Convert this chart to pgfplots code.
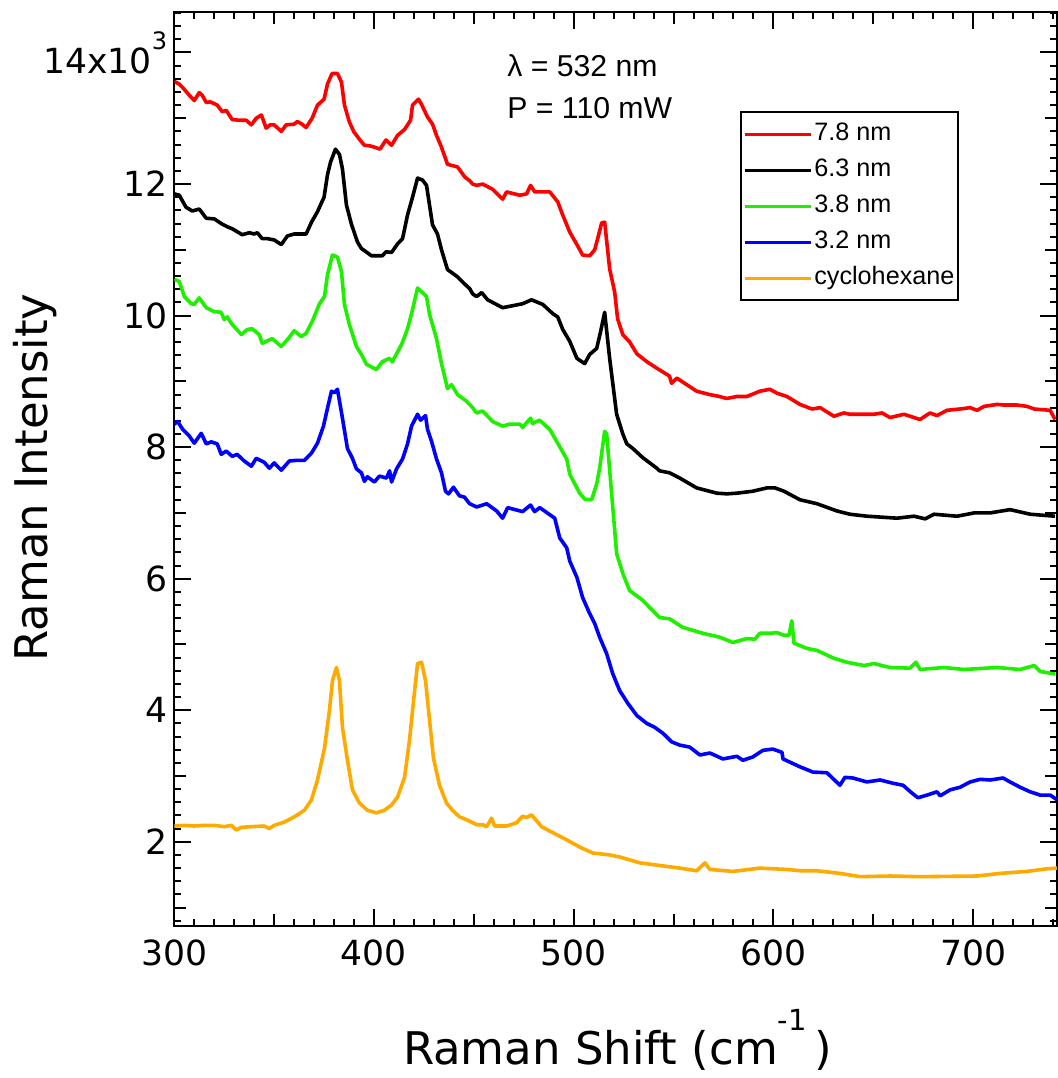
\documentclass[border=0pt]{standalone}
\usepackage{fontspec}
\setmainfont{DejaVu Sans}
\newfontfamily\arialfont{Liberation Sans}
\usepackage{pgfplots}
\pgfplotsset{compat=1.18}
\definecolor{cgreen}{RGB}{30,240,0}
\definecolor{corange}{RGB}{255,170,0}
\begin{document}
\begin{tikzpicture}
\begin{axis}[
  at={(0,0)}, anchor=south west,
  scale only axis, width=441.35pt, height=457.15pt,
  xmin=300, xmax=742, ymin=0.72, ymax=14.62,
  axis line style={line width=1pt},
  every tick/.style={black, line width=1pt},
  tick align=inside, tick pos=both,
  major tick length=8.5pt, minor tick length=3.5pt,
  xtick={300,400,...,700},
  minor xtick={300,310,...,740},
  ytick={2,4,...,14},
  yticklabels={2,4,6,8,10,12,14x10\raisebox{12pt}{\fontsize{12}{12}\selectfont 3}},
  minor ytick={0.8,1.0,1.2,1.4,1.6,1.8,2.2,2.4,2.6,2.8,3.2,3.4,3.6,3.8,4.2,4.4,4.6,4.8,5.2,5.4,5.6,5.8,6.2,6.4,6.6,6.8,7.2,7.4,7.6,7.8,8.2,8.4,8.6,8.8,9.2,9.4,9.6,9.8,10.2,10.4,10.6,10.8,11.2,11.4,11.6,11.8,12.2,12.4,12.6,12.8,13.2,13.4,13.6,13.8,14.2,14.4,14.6},
  extra x ticks={350,450,550,650},
  extra x tick labels={},
  extra y ticks={1,3,5,7,9,11,13},
  extra y tick labels={},
  extra tick style={major tick length=6pt},
  /pgf/number format/assume math mode=true,
  /pgf/number format/1000 sep={},
  ticklabel style={font=\fontsize{17.3}{20}\selectfont},
  xticklabel style={yshift=-3.5pt},
  xlabel={Raman Shift (cm\raisebox{17pt}{\fontsize{14.5}{14.5}\selectfont -1}\,)},
  ylabel={Raman Intensity},
  label style={font=\fontsize{22.5}{26}\selectfont},
  xlabel style={at={(axis description cs:0.502,-0.152)}, anchor=base},
  ylabel style={at={(axis description cs:-0.1431,0.4906)}, anchor=base, rotate=0},
  legend style={at={(axis description cs:0.6406,0.891)}, anchor=north west,
    draw=black, line width=1pt, font=\arialfont\fontsize{12.6}{15}\selectfont,
    inner xsep=1pt, inner ysep=4pt, row sep=4pt,
    nodes={inner sep=1pt, text height=9.2pt, text depth=2.8pt},
    cells={anchor=west}},
  legend image code/.code={\path (0pt,0pt) -- (33pt,0pt); \draw[#1] (3.5pt,0pt) -- (29pt,0pt);},
  every axis plot/.append style={line width=1.8pt, line join=round},
]
\addplot[color=red] coordinates {(300,13.56)(302.5,13.52)(305,13.44)(307.5,13.35)(310,13.27)(312.5,13.39)(314,13.35)(316,13.24)(318,13.25)(321.5,13.2)(324,13.1)(326,13.12)(329,12.98)(332.5,12.97)(336,12.97)(338.6,12.9)(341,13.0)(343.6,13.05)(346,12.85)(348,12.9)(350,12.9)(353.6,12.8)(356,12.9)(360,12.91)(361.6,12.95)(363.5,12.92)(366,12.86)(369,13.0)(371.7,13.2)(375,13.29)(376.7,13.52)(379,13.68)(381.7,13.68)(383.7,13.55)(385.2,13.2)(387.7,12.94)(390,12.79)(392.7,12.68)(395.2,12.59)(398,12.58)(400.3,12.56)(403,12.53)(406,12.67)(408.8,12.59)(411.8,12.74)(415.3,12.83)(418.3,12.97)(419.3,13.2)(422.3,13.29)(423.8,13.21)(426.8,13.02)(429.3,12.91)(431.3,12.74)(433.8,12.56)(436.8,12.3)(441.8,12.26)(445.4,12.11)(447.9,12.05)(449.4,12.0)(451.4,11.98)(454.4,12.0)(459.4,11.92)(464.4,11.77)(466.4,11.88)(473,11.83)(476.4,11.85)(478.4,11.98)(480.5,11.88)(488,11.88)(492,11.73)(494.5,11.53)(498,11.27)(501.6,11.08)(504.5,10.92)(508,10.91)(510.5,11.0)(512,11.17)(514,11.41)(515.5,11.42)(518,10.71)(520.5,10.36)(522,9.95)(524.6,9.71)(528,9.6)(531.6,9.42)(536.6,9.3)(541.6,9.2)(548,9.08)(549,8.97)(551.6,9.05)(556.6,8.95)(561.6,8.85)(568,8.8)(573,8.77)(576.6,8.74)(581.7,8.77)(586.7,8.77)(593.2,8.85)(598.2,8.88)(601.8,8.82)(606.8,8.77)(613.3,8.65)(619.3,8.58)(623.4,8.6)(630.3,8.47)(635.3,8.52)(638.3,8.5)(650.4,8.5)(654.4,8.52)(658.4,8.45)(665.4,8.5)(673.4,8.42)(678.4,8.52)(681.9,8.48)(686.9,8.56)(693.5,8.58)(698.5,8.6)(702,8.56)(705.5,8.62)(712,8.65)(715.5,8.64)(722,8.64)(727,8.62)(730.6,8.58)(738.6,8.56)(741,8.42)};
\addlegendentry{7.8 nm}
\addplot[color=black] coordinates {(300,11.85)(302.5,11.83)(305.8,11.65)(309,11.59)(312.5,11.62)(316,11.48)(320,11.47)(324,11.39)(326.6,11.35)(329,11.32)(334,11.23)(337.6,11.26)(340,11.24)(341.6,11.26)(344,11.17)(346.6,11.17)(350,11.15)(353.6,11.08)(356.6,11.21)(360,11.24)(366,11.24)(368.7,11.42)(371.7,11.58)(375,11.8)(376.7,12.14)(378.2,12.33)(380.7,12.53)(382.7,12.45)(384.2,12.23)(386.2,11.68)(388.7,11.39)(391.7,11.12)(393.7,11.02)(396,10.97)(398.7,10.91)(404.2,10.91)(406,10.97)(408.8,10.96)(411.8,11.09)(414.3,11.17)(416.8,11.53)(419.3,11.8)(421.8,12.09)(424.3,12.06)(426.3,11.98)(429.3,11.38)(431.8,11.24)(433.8,11.0)(436.8,10.7)(441.8,10.59)(445.4,10.48)(447.9,10.41)(449.4,10.33)(451.4,10.29)(453.9,10.35)(456.9,10.24)(464.4,10.12)(469.4,10.15)(474.4,10.18)(478.9,10.24)(484.5,10.17)(489.5,10.03)(492,9.98)(494.5,9.79)(498,9.61)(501.6,9.35)(505.5,9.27)(508,9.41)(511.5,9.5)(513.5,9.76)(515.5,10.05)(518,9.35)(521.5,8.5)(524.6,8.2)(526.6,8.05)(529.6,7.98)(534.6,7.84)(541.6,7.68)(543,7.64)(548,7.61)(553.1,7.53)(561.6,7.38)(571.7,7.3)(576.7,7.29)(581.7,7.3)(589.7,7.33)(596.7,7.38)(600.8,7.38)(605.3,7.33)(613.3,7.2)(621.8,7.14)(631.8,7.03)(638.3,6.98)(646.9,6.95)(661.9,6.92)(670.4,6.95)(676,6.91)(680.4,6.98)(692,6.95)(700.5,7.0)(708.5,7.0)(718.5,7.05)(728.6,6.98)(741,6.95)};
\addlegendentry{6.3 nm}
\addplot[color=cgreen] coordinates {(300,10.55)(302.5,10.52)(305,10.29)(308.5,10.18)(310,10.17)(312.5,10.27)(316,10.12)(320,10.06)(323.5,10.05)(325,9.94)(326.6,9.98)(328.6,9.88)(333.6,9.71)(336.6,9.79)(339,9.8)(342.6,9.71)(344,9.58)(349,9.65)(353.6,9.53)(357.6,9.67)(360,9.77)(363.6,9.68)(366,9.73)(369.2,9.92)(372.7,10.18)(375.2,10.29)(376.7,10.62)(379.2,10.92)(381.7,10.89)(383.7,10.67)(385.2,10.17)(387.7,9.86)(391.2,9.53)(393.7,9.41)(396.2,9.26)(401.2,9.18)(404.2,9.3)(407.7,9.35)(409.2,9.3)(413.8,9.56)(416.8,9.8)(419.3,10.09)(421.8,10.42)(426.3,10.29)(427.8,10.02)(431.3,9.65)(433.8,9.27)(436.8,8.89)(438.8,8.95)(441.8,8.8)(446.3,8.7)(449.4,8.6)(451.4,8.52)(454.4,8.55)(459.4,8.39)(464.4,8.32)(467.9,8.35)(473,8.35)(474.4,8.3)(478.4,8.44)(479.4,8.36)(482.9,8.41)(488,8.27)(492,8.06)(496.5,7.82)(498,7.59)(503,7.3)(505.5,7.21)(509,7.2)(511.5,7.44)(513,7.68)(515.5,8.24)(516.5,8.2)(519,7.29)(521.5,6.38)(524.6,6.08)(528,5.82)(534.6,5.67)(543,5.41)(548,5.39)(554.6,5.26)(564.7,5.17)(573.2,5.11)(579.7,5.03)(586.7,5.09)(590.7,5.08)(593.2,5.17)(598.5,5.17)(601.8,5.18)(605.3,5.14)(607.8,5.14)(609.2,5.36)(610.3,5.02)(616.8,4.94)(621.8,4.91)(630.3,4.79)(636.8,4.73)(645.4,4.68)(650.4,4.71)(658.4,4.65)(668.4,4.64)(671.4,4.73)(673.4,4.62)(685.4,4.65)(695.5,4.62)(712,4.65)(723.5,4.62)(730.6,4.68)(733.6,4.59)(741,4.55)};
\addlegendentry{3.8 nm}
\addplot[color=blue] coordinates {(300,8.35)(301.7,8.39)(304.2,8.27)(307.5,8.17)(310,8.06)(313.5,8.21)(316,8.05)(318.5,8.08)(321.5,8.05)(323.5,7.89)(326,7.94)(329,7.86)(331.5,7.89)(335,7.79)(338.6,7.71)(341,7.83)(345,7.77)(347.6,7.68)(350,7.76)(353.6,7.65)(357.6,7.79)(361.7,7.8)(365.2,7.8)(368.7,7.91)(371.7,8.06)(374.7,8.32)(376.7,8.59)(378.7,8.85)(380.2,8.83)(381.7,8.88)(384.2,8.44)(386.7,7.98)(389.2,7.83)(391.2,7.67)(393.7,7.61)(395.2,7.48)(396.7,7.55)(400.2,7.47)(402.7,7.56)(406.3,7.53)(407.8,7.64)(408.8,7.47)(411.3,7.67)(414.3,7.82)(416.8,8.05)(418.8,8.32)(421.8,8.5)(423.3,8.41)(425.8,8.48)(426.8,8.27)(428.8,8.09)(431.3,7.82)(433.8,7.61)(435.8,7.33)(437.3,7.29)(439.8,7.39)(442.8,7.26)(445.3,7.24)(447.9,7.14)(451.4,7.09)(456.4,7.14)(461.4,7.03)(464.4,6.92)(466.9,7.08)(474.4,7.02)(478.4,7.12)(480.4,7.02)(483,7.08)(490.5,6.92)(493,6.62)(496.5,6.47)(498,6.27)(501.6,6.02)(504.5,5.71)(508,5.47)(510.5,5.32)(513,5.11)(516.5,4.86)(519.5,4.56)(523,4.3)(527,4.11)(531.6,3.92)(536.6,3.8)(540.6,3.74)(544.7,3.65)(549,3.52)(553.1,3.47)(558.1,3.44)(563.2,3.32)(568.2,3.35)(574.7,3.26)(581.7,3.3)(584.7,3.24)(589.7,3.29)(594.7,3.39)(599.7,3.41)(604.3,3.36)(604.8,3.26)(613.3,3.14)(619.8,3.06)(626.8,3.05)(633.3,2.86)(635.8,2.98)(639.8,2.97)(646.8,2.91)(653.4,2.94)(659.9,2.89)(664.9,2.86)(669.4,2.74)(672.4,2.67)(676.9,2.71)(681.9,2.76)(683.5,2.7)(688.5,2.79)(693.5,2.83)(698.5,2.91)(703.5,2.95)(708.5,2.94)(715,2.97)(718.5,2.91)(723.5,2.83)(728.6,2.76)(733.6,2.71)(738.6,2.71)(742,2.64)};
\addlegendentry{3.2 nm}
\addplot[color=corange] coordinates {(300,2.24)(305,2.25)(310,2.24)(315,2.25)(320,2.25)(325,2.23)(328.6,2.25)(331,2.18)(333.6,2.22)(338.6,2.23)(345,2.24)(347.6,2.2)(350,2.25)(355.1,2.3)(360.1,2.38)(365.2,2.48)(368.7,2.64)(371.7,2.94)(375.2,3.42)(377.7,4.0)(379.2,4.45)(381.2,4.65)(382.7,4.45)(384.2,3.74)(386.7,3.24)(389.2,2.79)(392.7,2.59)(396.7,2.48)(401.2,2.44)(405.2,2.48)(408.8,2.56)(411.8,2.68)(415.3,2.98)(417.8,3.55)(419.3,4.0)(421.8,4.71)(423.8,4.73)(425.8,4.45)(427.8,3.85)(429.8,3.27)(432.8,2.86)(436.3,2.59)(439.3,2.48)(442.8,2.38)(446.8,2.33)(451.4,2.26)(454.4,2.26)(456.4,2.23)(458.9,2.36)(460.4,2.24)(466.4,2.24)(471.4,2.29)(474.4,2.39)(476.5,2.37)(478.9,2.41)(483.9,2.23)(489.5,2.14)(496.5,2.03)(503,1.92)(509.5,1.83)(518,1.8)(523,1.77)(533.1,1.68)(543.1,1.64)(553.1,1.6)(561.6,1.56)(565.7,1.68)(568.2,1.58)(579.7,1.55)(593.2,1.6)(606.7,1.58)(613.3,1.56)(621.8,1.56)(633.3,1.52)(643.4,1.47)(658.4,1.48)(673.4,1.47)(702,1.48)(713.5,1.52)(727,1.55)(737,1.59)(742,1.6)};
\addlegendentry{cyclohexane}
\node[anchor=base west, font=\arialfont\fontsize{15.1}{18}\selectfont, inner sep=0pt] at (axis description cs:0.3769,0.9286) {λ = 532 nm};
\node[anchor=base west, font=\arialfont\fontsize{15.1}{18}\selectfont, inner sep=0pt] at (axis description cs:0.3769,0.8837) {P = 110 mW};
\end{axis}
\pgfresetboundingbox
\path[use as bounding box] (-87.15pt,-76pt) rectangle (441.35pt,463pt);
\end{tikzpicture}
\end{document}
